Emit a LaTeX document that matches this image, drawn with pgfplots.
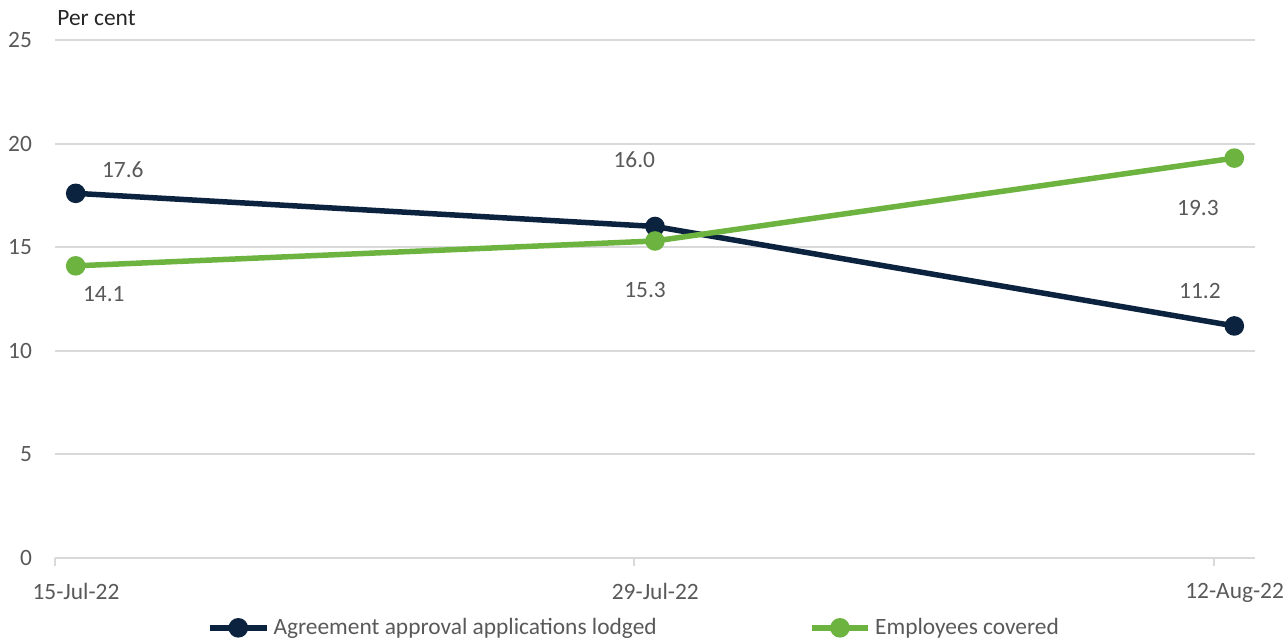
\documentclass[border=0pt]{standalone}
\usepackage{pgfplots}
\pgfplotsset{compat=1.18}
\usepackage{fontspec}
\setmainfont{Carlito}
\definecolor{navy}{HTML}{0C2340}
\definecolor{grn}{HTML}{6DB33F}
\definecolor{txt}{HTML}{595959}
\definecolor{grd}{HTML}{D9D9D9}
\begin{document}
\begin{tikzpicture}
\begin{axis}[
  width=600pt, height=259pt, scale only axis,
  xmin=0, xmax=29, ymin=0, ymax=25,
  ytick={0,5,...,25},
  xtick={0,14,28},
  xticklabels={15-Jul-22,29-Jul-22,12-Aug-22},
  axis x line*=bottom, axis y line*=left,
  x axis line style={grd, line width=1pt, -},
  y axis line style={draw=none},
  xtick style={grd, line width=1pt},
  ytick style={draw=none},
  major tick length=4pt,
  tick align=outside,
  ymajorgrids, grid style={grd, line width=1pt},
  tick label style={font=\fontsize{11.7}{14}\selectfont, text=txt},
  /pgf/number format/assume math mode=true,
  xticklabel style={xshift=10.5pt, yshift=-5pt},
  yticklabel style={xshift=-4pt},
  clip=false,
  legend style={at={(0.5,-0.1)}, anchor=north, xshift=-10pt, draw=none, fill=none,
    font=\fontsize{11.7}{14}\selectfont, text=txt, legend columns=2,
    /tikz/every even column/.append style={column sep=74pt}},
  legend image code/.code={
    \draw[#1, line width=2.75pt] (0cm,0cm) -- (1cm,0cm);
    \fill[#1] (0.5cm,0cm) circle (3.5pt);},
]
\addplot[navy, line width=2.75pt, mark=*, mark size=3.5pt] coordinates {
  (0.5,17.6) (14.5,16.0) (28.5,11.2)};
\addlegendentry{Agreement approval applications lodged}
\addplot[grn, line width=2.75pt, mark=*, mark size=3.5pt] coordinates {
  (0.5,14.1) (14.5,15.3) (28.5,19.3)};
\addlegendentry{Employees covered}
\begin{scope}[every node/.style={font=\fontsize{11.7}{14}\selectfont, text=txt}]
\node at (axis cs:1.64,18.73) {17.6};
\node at (axis cs:14.0,19.2) {16.0};
\node at (axis cs:27.67,12.9) {11.2};
\node at (axis cs:1.18,12.74) {14.1};
\node at (axis cs:14.26,12.93) {15.3};
\node at (axis cs:27.62,16.89) {19.3};
\node[anchor=base west, inner sep=0pt] at ([xshift=1pt, yshift=7pt]rel axis cs:0,1) {\textcolor[HTML]{262626}{Per cent}};
\end{scope}
\coordinate (ll) at (rel axis cs:0,0);
\coordinate (ur) at (rel axis cs:1,1);
\end{axis}
\pgfresetboundingbox
\path ([shift={(-27.5pt,-42pt)}]ll) rectangle ([shift={(16.5pt,20pt)}]ur);
\end{tikzpicture}
\end{document}
